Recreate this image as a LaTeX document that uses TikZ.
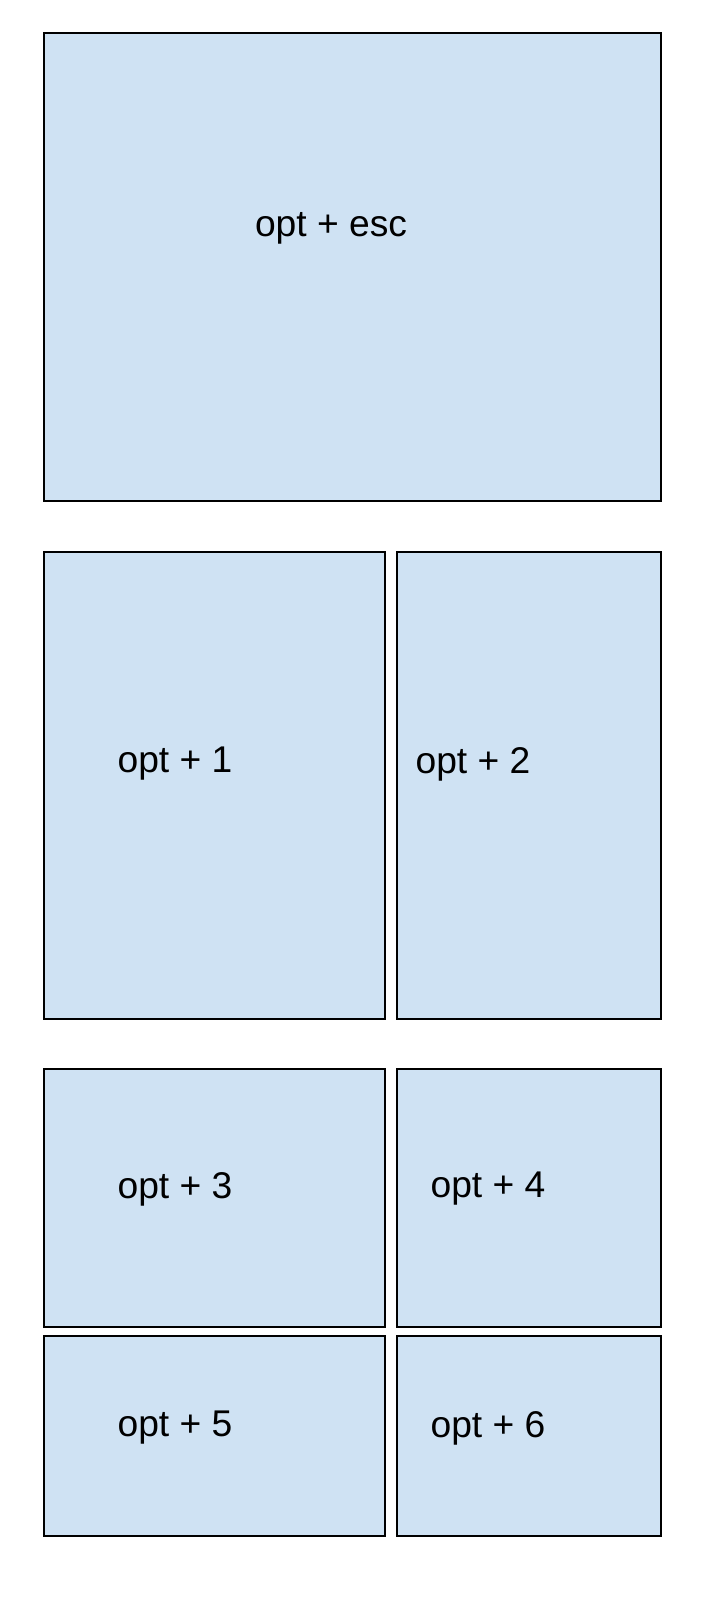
\documentclass[tikz,border=0pt]{standalone}
\usepackage{fontspec}
\setmainfont{Liberation Sans}
\definecolor{paneblue}{HTML}{CFE2F3}
\tikzset{
	pane/.style={draw=black, fill=paneblue, line width=1pt},
	key/.style={font=\fontsize{18.6}{22}\selectfont, inner sep=0pt}
}
\begin{document}
\begin{tikzpicture}[x=0.5pt, y=-0.5pt]
				\useasboundingbox (0,0) rectangle (714,1610);
				\def\xl{44}
				\def\xm{385}
				\def\xn{397}
				\def\xr{661}
				\draw[pane] (\xl,33) rectangle (\xr,501);
				\foreach \ya/\yb in {552/1019, 1069/1327, 1336/1536} {
					\draw[pane] (\xl,\ya) rectangle (\xm,\yb);
					\draw[pane] (\xn,\ya) rectangle (\xr,\yb);
				}
				\node[key] (esc) at (331, 228) {opt + esc};
				\node[key] (one) at (175, 764) {opt + 1};
				\node[key] (two) at (473, 764) {opt + 2};
				\node[key] (three) at (175, 1189) {opt + 3};
				\node[key] (four) at (488, 1189) {opt + 4};
				\node[key] (five) at (175, 1428) {opt + 5};
				\node[key] (six) at (488, 1428) {opt + 6};
			\end{tikzpicture}
\end{document}
